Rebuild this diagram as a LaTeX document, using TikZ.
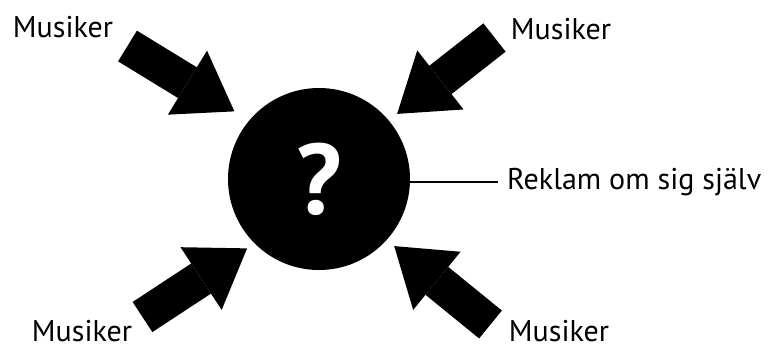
\documentclass[tikz,border=0pt]{standalone}
\usepackage{fontspec}
\setmainfont{PT Sans}
\usetikzlibrary{arrows.meta,positioning}

\begin{document}
\begin{tikzpicture}[
  x=1pt,y=-1pt,
  lbl/.style={font=\fontsize{30}{34}\selectfont,inner sep=0pt},
  fat/.style={line width=36pt,-{Triangle[length=55pt,width=75pt,line width=0pt]}}
]
\useasboundingbox (0,0) rectangle (771,349);
% centre
\node[circle,fill=black,text=white,minimum size=182pt,inner sep=0pt,
  font=\fontsize{100}{100}\selectfont\bfseries] (q) at (319,179) {?};
% labels
\node[lbl] (mtl) at (63,27) {Musiker};
\node[lbl] (mtr) at (561,29) {Musiker};
\node[lbl] (mbl) at (82,331) {Musiker};
\node[lbl] (mbr) at (559,331) {Musiker};
\node[lbl,anchor=west,inner xsep=9pt] (reklam) at (498,182) {Reklam om sig själv};
% arrow tails
\coordinate (atl) at (127.5,46);
\coordinate (atr) at (494.5,37.5);
\coordinate (abl) at (142.5,317);
\coordinate (abr) at (490.5,324.5);

\draw[fat,shorten >=17.3pt] (atl) -- (q.140.6);
\draw[fat,shorten >=10.5pt] (atr) -- (q.40);
\draw[fat,shorten >=8.9pt] (abl) -- (q.225.7);
\draw[fat,shorten >=9.6pt] (abr) -- (q.318.9);
\draw[line width=1.3pt] (reklam.west -| q.east) -- (reklam.west);
\end{tikzpicture}
\end{document}
